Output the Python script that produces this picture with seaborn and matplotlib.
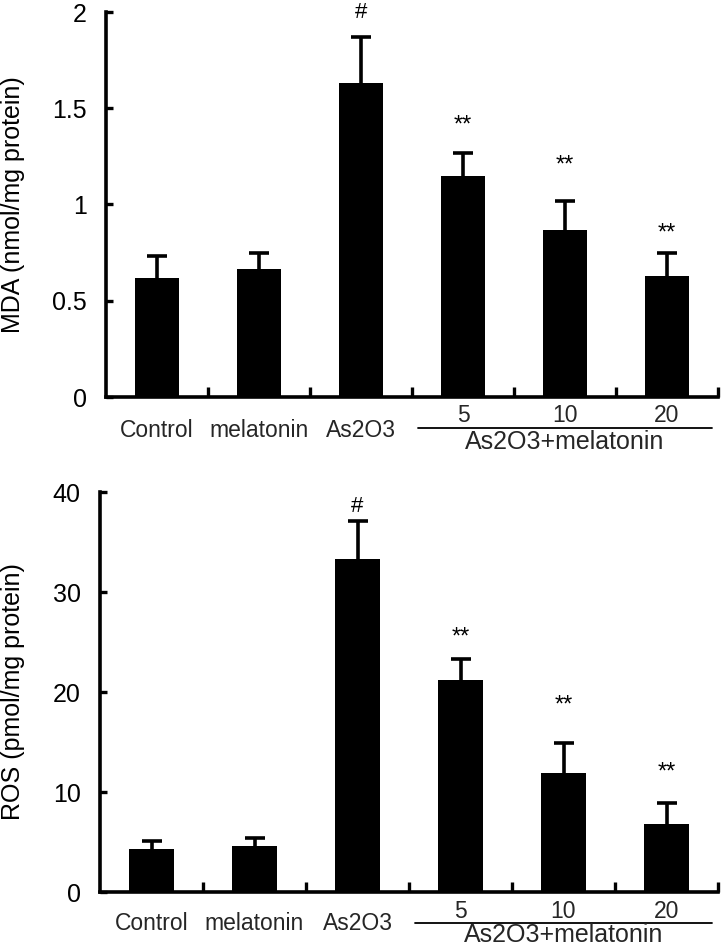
import matplotlib
matplotlib.use("Agg")
import matplotlib.pyplot as plt
import matplotlib.transforms as mtrans
import seaborn as sns
import numpy as np
import pandas as pd

categories = ["Control", "melatonin", "As2O3", "5", "10", "20"]
group_label = "As2O3+melatonin"
mda_mean = [0.62, 0.665, 1.63, 1.15, 0.87, 0.63]
mda_sd = [0.11, 0.085, 0.24, 0.12, 0.15, 0.12]
ros_mean = [4.3, 4.6, 33.3, 21.2, 11.9, 6.8]
ros_sd = [0.8, 0.8, 3.8, 2.1, 3.0, 2.1]
marks = ["", "", "#", "**", "**", "**"]
mda_mark_y = [None, None, 1.97, 1.38, 1.17, 0.82]
ros_mark_y = [None, None, 38.0, 24.8, 18.0, 11.3]

sns.set_theme(style="white")
plt.rcParams['font.family'] = ['Liberation Sans', 'DejaVu Sans']

fig = plt.figure(figsize=(7.21, 9.47), dpi=100)
ax1 = fig.add_axes([106/721, 1-397/947, (718-106)/721, (397-12)/947])
ax2 = fig.add_axes([100/721, 1-892/947, (718-100)/721, (892-492)/947])


def panel(ax, means, sds, mark_y, ylim, yticks, yticklabels, ylabel,
          lab_off, num_off, line_off, grp_off):
    df = pd.DataFrame({"cat": categories, "val": means})
    sns.barplot(data=df, x="cat", y="val", color="black", width=0.43,
                edgecolor="black", linewidth=0, saturation=1, ax=ax, errorbar=None)
    x = np.arange(len(categories))
    eb = ax.errorbar(x, means, yerr=[np.zeros(len(means)), sds], fmt="none",
                     ecolor="black", elinewidth=2.6, capsize=7, capthick=2.6)
    caps = eb[1]
    if len(caps) == 2:
        caps[0].set_visible(False)
    ax.set_xlim(-0.5, 5.5)
    ax.set_ylim(*ylim)
    ax.set_yticks(yticks)
    ax.set_yticklabels(yticklabels)
    ax.set_xticks(np.arange(0.5, 6.0, 1.0))
    ax.set_xticklabels([])
    ax.tick_params(axis="both", which="major", direction="in", width=2.4,
                   color="black", bottom=True, left=True, labelsize=18,
                   labelcolor="black")
    ax.tick_params(axis="x", length=7)
    ax.tick_params(axis="y", length=5, pad=14)
    ax.set_xlabel("")
    ax.set_ylabel(ylabel, fontsize=18, color="black")
    for s in ["top", "right"]:
        ax.spines[s].set_visible(False)
    for s in ["left", "bottom"]:
        ax.spines[s].set_linewidth(2.6)
        ax.spines[s].set_color("black")
    for i, (m, yv) in enumerate(zip(marks, mark_y)):
        if m:
            ax.text(i, yv, m, ha="center", va="baseline",
                    fontsize=16 if m == "#" else 17, color="black")
    for i in range(3):
        ax.annotate(categories[i], xy=(i, 0), xycoords=("data", "axes fraction"),
                    xytext=(0, -lab_off), textcoords="offset points",
                    ha="center", va="center", fontsize=16.5)
    for i in range(3, 6):
        ax.annotate(categories[i], xy=(i, 0), xycoords=("data", "axes fraction"),
                    xytext=(0, -num_off), textcoords="offset points",
                    ha="center", va="center", fontsize=16.5)
    line = plt.Line2D([2.56, 5.44], [0, 0], color="black", lw=1.3, clip_on=False)
    line.set_transform(ax.get_xaxis_transform() +
                       mtrans.ScaledTranslation(0, -line_off / 72, fig.dpi_scale_trans))
    ax.add_line(line)
    ax.annotate(group_label, xy=(4.0, 0), xycoords=("data", "axes fraction"),
                xytext=(0, -grp_off), textcoords="offset points",
                ha="center", va="center", fontsize=18)


panel(ax1, mda_mean, mda_sd, mda_mark_y, (0, 2.0), [0, 0.5, 1, 1.5, 2],
      ["0", "0.5", "1", "1.5", "2"], "MDA (nmol/mg protein)", 24, 13, 22.5, 32.5)
panel(ax2, ros_mean, ros_sd, ros_mark_y, (0, 40), [0, 10, 20, 30, 40],
      ["0", "10", "20", "30", "40"], "ROS (pmol/mg protein)", 22.5, 14, 22.5, 31)

ax1.yaxis.set_label_coords(-(106 - 13) / 612, 0.5)
ax2.yaxis.set_label_coords(-(100 - 13) / 618, 0.5)
ax1.yaxis.label.set_va("center")
ax2.yaxis.label.set_va("center")

fig.savefig("out.png", dpi=100)
